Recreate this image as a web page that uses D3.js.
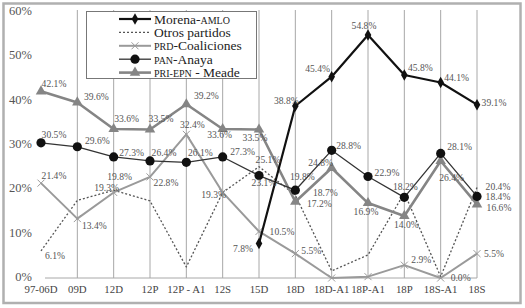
<!DOCTYPE html>
<html>
<head>
<meta charset="utf-8">
<script src="https://cdn.jsdelivr.net/npm/d3@7"></script>
</head>
<body style="margin:0">
<svg width="525" height="308" style="display:block"></svg>
<script>
// categories and series (percent)
const categories = ["97-06D", "09D", "12D", "12P", "12P - A1", "12S", "15D", "18D", "18D-A1", "18P-A1", "18P", "18S-A1", "18S"];
const morena = [null, null, null, null, null, null, 7.8, 38.8, 45.4, 54.8, 45.8, 44.1, 39.1];
const otros = [6.1, 17.5, 19.8, 17.4, 2.5, 19.3, 25.1, 18.7, 1.6, 5.2, 19.2, 0.3, 20.4];
const prd = [21.4, 13.4, 19.3, 22.8, 32.4, 19.3, 10.5, 5.5, 0.0, 0.3, 2.9, 0.0, 5.5];
const pan = [30.5, 29.6, 27.3, 26.4, 26.1, 27.3, 23.1, 19.8, 28.8, 22.9, 18.2, 28.1, 18.4];
const pri = [42.1, 39.6, 33.6, 33.5, 39.2, 33.6, 33.5, 17.2, 24.8, 16.9, 14.0, 26.4, 16.6];
const seriesNames = ["Morena-AMLO", "Otros partidos", "PRD-Coaliciones", "PAN-Anaya", "PRI-EPN - Meade"];
const yTicks = [0, 10, 20, 30, 40, 50, 60];

// where each value label sits relative to its point (null = no label)
const morenaLab = [null, null, null, null, null, null, [-16, 5], [-9, -5], [-14, -8], [-4, -9], [16, -7], [16, -5], [17, -2]];
const otrosLab = [[14, 5], null, [6, -13], null, null, null, [9, -7], [30, -2], null, null, null, null, [21, -1]];
const prdLab = [[13, -7], [17, 7], [-7, -5], [16, 6], [6, -10], [-9, 2], [23, 0], [16, -3], null, null, [17, -5], [20, 0], [17, 0]];
const panLab = [[13, -8], [20, -6], [18, -4], [14, -8], [14, -9], [20, -5], [5, 7], [7, -13], [17, -5], [19, -4], [1, -11], [19, -7], [21, 0.5]];
const priLab = [[13, -8], [19, -6], [13, -10], [11, -11], [20, -8], [-3, 6], [-4, 8], [24, 2], [-11, -5], [-2, 9], [2, 9], [11, 17], [22, 3]];

const svg = d3.select("svg");

var x = d3.scalePoint().domain(categories).range([41, 477]);
var y = d3.scaleLinear().domain([0, 60]).range([278, 12]);

const crossPath = "M-3.5,-3.5L3.5,3.5M-3.5,3.5L3.5,-3.5";

const series = [
    { name: seriesNames[1], values: otros, labs: otrosLab, color: "#555", width: 1.3, dash: "2,2", marker: null },
    { name: seriesNames[2], values: prd, labs: prdLab, color: "#9a9a9a", width: 2, dash: null, marker: "cross" },
    { name: seriesNames[4], values: pri, labs: priLab, color: "#858585", width: 2.6, dash: null, marker: "triangle" },
    { name: seriesNames[3], values: pan, labs: panLab, color: "#333", width: 1.3, dash: null, marker: "circle" },
    { name: seriesNames[0], values: morena, labs: morenaLab, color: "#111", width: 2.2, dash: null, marker: "diamond" }
];

function serif(sel) {
    sel.style("font-family", () => "'Liberation Serif', 'Times New Roman'");
}

// outer frame
svg.append("rect")
    .attr("x", 3.5).attr("y", 3.5)
    .attr("width", 517).attr("height", 299.5)
    .attr("fill", "#fff")
    .attr("stroke", "#b0b0b0").attr("stroke-width", 2.5);

// vertical grid lines (none at first category)
svg.append("g").selectAll("line")
    .data(categories.slice(1)).enter()
    .append("line")
    .attr("x1", d => x(d)).attr("x2", d => x(d))
    .attr("y1", y(60) - 2).attr("y2", y(0))
    .attr("stroke", "#a8a8a8").attr("stroke-width", 1);

// baseline
svg.append("line")
    .attr("x1", x(categories[0]) + 4).attr("x2", x(categories[categories.length - 1]))
    .attr("y1", y(0)).attr("y2", y(0))
    .attr("stroke", "#a8a8a8").attr("stroke-width", 1);

// y labels
svg.append("g").selectAll("text")
    .data(yTicks).enter()
    .append("text")
    .attr("x", 32).attr("y", d => y(d) + 3)
    .attr("text-anchor", "end")
    .attr("font-size", 12.5).attr("fill", "#555")
    .call(serif)
    .text(d => d + "%");

// x labels
svg.append("g").selectAll("text")
    .data(categories).enter()
    .append("text")
    .attr("x", d => x(d)).attr("y", 293)
    .attr("text-anchor", "middle")
    .attr("font-size", 10.8).attr("fill", "#444")
    .call(serif)
    .text(d => d);

function drawMarker(sel, s) {
    if (s.marker === "circle") {
        sel.append("circle").attr("r", 4.6).attr("fill", "#111");
    } else if (s.marker === "diamond") {
        sel.append("path").attr("d", d3.symbol(d3.symbolDiamond, 38)()).attr("fill", "#111");
    } else if (s.marker === "triangle") {
        sel.append("path").attr("d", d3.symbol(d3.symbolTriangle, 48)()).attr("fill", s.color);
    } else if (s.marker === "cross") {
        sel.append("path").attr("d", crossPath).attr("stroke", s.color).attr("stroke-width", 1).attr("fill", "none");
    }
}

var line = d3.line()
    .defined(d => d.v != null)
    .x(d => x(d.c)).y(d => y(d.v));

series.forEach(s => {
    const pts = s.values.map((v, i) => ({ c: categories[i], v: v, lab: s.labs[i] }));
    const g = svg.append("g");

    g.append("path")
        .datum(pts)
        .attr("d", line)
        .attr("fill", "none")
        .attr("stroke", s.color)
        .attr("stroke-width", s.width)
        .attr("stroke-dasharray", s.dash)
        .attr("stroke-linejoin", "round");

    if (s.marker) {
        g.selectAll("g.mk")
            .data(pts.filter(d => d.v != null)).enter()
            .append("g").attr("class", "mk")
            .attr("transform", d => "translate(" + x(d.c) + "," + y(d.v) + ")")
            .call(sel => drawMarker(sel, s));
    }
});

// value labels on top
series.forEach(s => {
    const pts = s.values.map((v, i) => ({ c: categories[i], v: v, lab: s.labs[i] }))
        .filter(d => d.v != null && d.lab);
    svg.append("g").selectAll("text")
        .data(pts).enter()
        .append("text")
        .attr("x", d => x(d.c) + d.lab[0])
        .attr("y", d => y(d.v) + d.lab[1] + 3.2)
        .attr("text-anchor", "middle")
        .attr("font-size", 9.6).attr("fill", "#555")
        .call(serif)
        .text(d => d.v.toFixed(1) + "%");
});

// legend
const legend = svg.append("g");
legend.append("rect")
    .attr("x", 86.5).attr("y", 11.5)
    .attr("width", 170).attr("height", 67)
    .attr("fill", "#fff").attr("stroke", "#777").attr("stroke-width", 1);

const legendOrder = [series[4], series[0], series[1], series[3], series[2]];
legendOrder.forEach((s, i) => {
    const row = legend.append("g").attr("transform", "translate(0," + (19 + i * 13.4) + ")");
    row.append("line")
        .attr("x1", 119).attr("x2", 151)
        .attr("stroke", s.color).attr("stroke-width", s.width)
        .attr("stroke-dasharray", s.dash);
    if (s.marker) {
        row.append("g").attr("transform", "translate(135,0)").call(sel => drawMarker(sel, s));
    }
    // acronyms in small caps, as one line of text
    const t = row.append("text")
        .attr("x", 154).attr("y", 4.5)
        .attr("font-size", 13.5).attr("fill", "#222")
        .call(serif);
    s.name.split(/([A-Z]{2,}(?:-[A-Z]{2,})*)/).filter(p => p !== "").forEach(p => {
        t.append("tspan")
            .attr("font-size", /^[A-Z]{2,}/.test(p) ? 10 : 13.5)
            .text(p);
    });
});
</script>
</body>
</html>
